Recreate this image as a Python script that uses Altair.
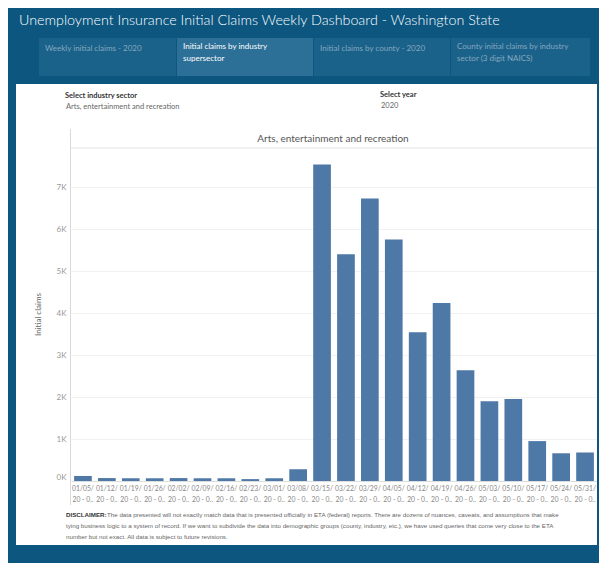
import altair as alt
import pandas as pd

# ---- data ----
weeks = ["01/05/", "01/12/", "01/19/", "01/26/", "02/02/", "02/09/", "02/16/", "02/23/",
         "03/01/", "03/08/", "03/15/", "03/22/", "03/29/", "04/05/", "04/12/", "04/19/",
         "04/26/", "05/03/", "05/10/", "05/17/", "05/24/", "05/31/"]
claims = [120, 70, 65, 65, 70, 65, 65, 45,
          65, 280, 7540, 5400, 6730, 5750, 3540, 4240,
          2640, 1900, 1950, 950, 660, 680]
y_ticks = [0, 1000, 2000, 3000, 4000, 5000, 6000, 7000]

dash_title = "Unemployment Insurance Initial Claims Weekly Dashboard  - Washington State"
tabs = [["Weekly initial claims - 2020"],
        ["Initial claims by industry", "supersector"],
        ["Initial claims by county - 2020"],
        ["County initial claims by industry", "sector (3 digit NAICS)"]]
sector = "Arts, entertainment and recreation"
year = "2020"
disc_bold = "DISCLAIMER:"
disc_lines = [
    "The data presented will not exactly match data that is presented officially in ETA (federal) reports. There are dozens of nuances, caveats, and assumptions that make",
    "tying business logic to a system of record. If we want to subdivide the data into demographic groups (county, industry, etc.), we have used queries that come very close to the ETA",
    "number but not exact.  All data is subject to future revisions.",
]

df = pd.DataFrame({"week": weeks, "claims": claims})
one = pd.DataFrame({"k": [0]})

BG = "#0c5680"
TAB = "#1a628a"
TAB_ON = "#2c6f97"
FONT = "Lato"


def rect(x, x2, y, y2, color):
    return alt.Chart(one).mark_rect(color=color).encode(
        x=alt.value(x), x2=alt.value(x2), y=alt.value(y), y2=alt.value(y2))


def rule(x, x2, y, y2, color):
    return alt.Chart(one).mark_rule(color=color, strokeWidth=1).encode(
        x=alt.value(x), x2=alt.value(x2), y=alt.value(y), y2=alt.value(y2))


def text(s, x, y, size, color, weight="normal", align="left", font=FONT):
    return alt.Chart(one).mark_text(
        text=s, align=align, baseline="middle", fontSize=size, color=color,
        fontWeight=weight, font=font).encode(x=alt.value(x), y=alt.value(y))


layers = []
# dark frame around the white panel
layers += [
    rect(-63, 528, -140, -64, BG),
    rect(-63, 528, 397, 415, BG),
    rect(-63, -55, -64, 397, BG),
    rect(526, 528, -64, 397, BG),
]
# title
layers.append(text(dash_title, -52, -127, 14.3, "white", weight=300))
# tabs
tab_x = [(-32, 105), (106, 242), (243, 379), (380, 519)]
for i, ((x0, x1), lines) in enumerate(zip(tab_x, tabs)):
    layers.append(rect(x0, x1, -110, -72, TAB_ON if i == 1 else TAB))
    col = "#ffffff" if i == 1 else "#86a7bf"
    if len(lines) == 1:
        layers.append(text(lines[0], x0 + 6, -99, 8, col))
    else:
        layers.append(text(lines[0], x0 + 6, -101, 8, col))
        layers.append(text(lines[1], x0 + 6, -89, 8, col))
# selectors
layers.append(text("Select industry sector", -6, -52, 7.5, "#333333", weight="bold"))
layers.append(text(sector, -5, -41, 7.5, "#666666"))
layers.append(text("Select year", 309, -53, 7.5, "#333333", weight="bold"))
layers.append(text(year, 310, -42, 7.5, "#666666"))
# sheet header
layers.append(text(sector, 262, -9, 10, "#555555", align="center"))
layers.append(rule(0, 526, 0, 0, "#e6e6e6"))
layers.append(rule(-0.5, -0.5, -19, 357, "#d9d9d9"))
# disclaimer
layers.append(text(disc_bold, -5, 367, 6.2, "#333333", weight="bold", font="Liberation Sans"))
layers.append(text(disc_lines[0], 36, 367, 6.2, "#666666", font="Liberation Sans"))
layers.append(text(disc_lines[1], -5, 378, 6.2, "#666666", font="Liberation Sans"))
layers.append(text(disc_lines[2], -5, 389, 6.2, "#666666", font="Liberation Sans"))

bars = alt.Chart(df).mark_bar(color="#4e79a7").encode(
    x=alt.X("week:N", sort=weeks, title=None,
            scale=alt.Scale(paddingInner=0.26, paddingOuter=0.13),
            axis=alt.Axis(labelAngle=0, labelExpr="[datum.label, '20 - 0..']",
                          domain=True, domainColor="#dddddd", ticks=False,
                          labelFont=FONT, labelFontSize=6.8, labelColor="#888888",
                          labelPadding=4, labelOverlap=False, labelLineHeight=11,
                          labelBaseline="top")),
    y=alt.Y("claims:Q", title="Initial claims",
            scale=alt.Scale(domain=[0, 7930], nice=False),
            axis=alt.Axis(values=y_ticks, labelExpr="(datum.value/1000) + 'K'",
                          grid=True, gridColor="#f1f1f1", domain=False, ticks=False,
                          labelFont=FONT, labelFontSize=8, labelColor="#999999",
                          labelPadding=5, labelFlush=True,
                          titleFont=FONT, titleFontSize=8, titleFontWeight="normal",
                          titleColor="#666666", titleX=-33, titleY=166,
                          titleAlign="center", titleBaseline="middle")),
)

chart = alt.layer(*layers, bars).properties(
    width=526, height=333,
    padding={"left": 63, "top": 140, "right": 2, "bottom": 82},
    autosize=alt.AutoSizeParams(type="none"),
    background="white",
).configure_view(stroke=None)

chart.save("out.html", embed_options={"renderer": "svg", "actions": False})
